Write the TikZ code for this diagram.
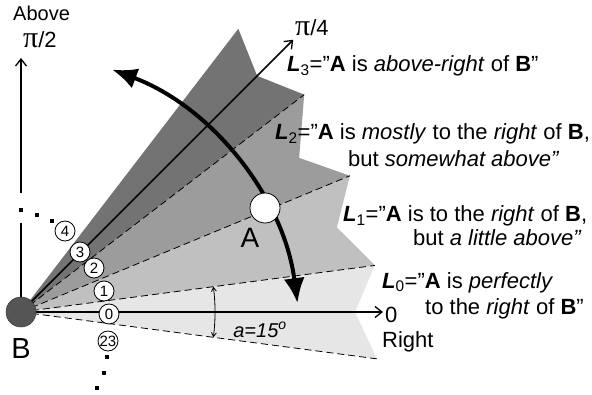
\documentclass[tikz,border=0pt]{standalone}
\usepackage{fontspec}
\setmainfont{Liberation Sans}
\newfontfamily\pifont{Liberation Serif}
\usetikzlibrary{arrows.meta,calc}
\definecolor{gL0}{HTML}{E6E6E6}
\definecolor{gL1}{HTML}{C0C0C0}
\definecolor{gL2}{HTML}{9C9C9C}
\definecolor{gL3}{HTML}{737373}
\definecolor{gB}{HTML}{555555}
\newcommand\Lsub[1]{\textbf{\textit{L}}\textsubscript{#1}=”}
\newcommand\bigpi{{\pifont\fontsize{30}{30}\selectfont π}}
\tikzset{
  txt/.style={inner sep=0pt, anchor=base west, font=\fontsize{22}{26}\selectfont},
  bound/.style={line width=0.8pt, dash pattern=on 7pt off 4pt},
  axis/.style={line width=1.5pt, -{Straight Barb[length=7pt,width=11pt,line width=1.3pt]}},
  num/.style={circle, draw, line width=0.8pt, fill=white, inner sep=0pt, minimum size=20pt, font=\fontsize{15}{15}\selectfont},
  dotm/.style={fill, inner sep=0pt, minimum size=3.5pt},
  bigarc/.style={line width=4pt, {Latex[length=25pt,width=21pt]}-{Latex[length=25pt,width=21pt]}},
}
\begin{document}
\begin{tikzpicture}[x=1pt,y=1pt]
\useasboundingbox (0,0) rectangle (592,394);
\coordinate (B) at (21,82);
\coordinate (C) at (10,53);
% sectors
\begin{scope}[shift={(B)}]
\fill[gL0] (0,0) -- (-7.5:359) -- (0:334) -- (7.5:357) -- cycle;
\fill[gL1] (0,0) -- (7.5:357) -- (15:327) -- (22.5:356) -- cycle;
\fill[gL2] (0,0) -- (22.5:356) -- (29:318) -- (37.5:357) -- cycle;
\fill[gL3] (0,0) -- (37.5:357) -- (45:334) -- (52.5:357) -- cycle;
\coordinate (dm1) at (-7.5:359);
\coordinate (d1) at (7.5:357);
\coordinate (d2) at (22.5:356);
\coordinate (d3) at (37.5:357);
\coordinate (r0) at (0:362);
\coordinate (r45) at (45:385);
\coordinate (v1) at (90:89);
\coordinate (v2) at (90:119);
\coordinate (v3) at (90:254);
\coordinate (a1) at (-7.5:194);
\end{scope}
\draw[bound] (B) -- (dm1);
\draw[bound] (B) -- (d1);
\draw[bound] (B) -- (d2);
\draw[bound] (B) -- (d3);
% axes
\draw[axis] (B) -- (r0);
\draw[axis] (B) -- (r45);
\draw[line width=2pt] (B) -- (v1);
\draw[axis, line width=2pt] (v2) -- (v3);
% angle arc
\draw[line width=0.8pt, {Straight Barb[length=4pt,width=5pt]}-{Straight Barb[length=4pt,width=5pt]}] (a1) arc[start angle=-7.5, end angle=7.5, radius=194];
\node[inner sep=0pt, font=\fontsize{20}{20}\selectfont\itshape] (alab) at (260,64) {a=15\textsuperscript{o}};
% dots
\node[dotm] (u1) at (21,184) {};
\node[dotm] (u2) at (37,179) {};
\node[dotm] (u3) at (52,173) {};
\node[dotm] (l1) at (107,37) {};
\node[dotm] (l2) at (104,21) {};
\node[dotm] (l3) at (97,6) {};
% numbers
\node[num] (n0) at (109,80) {0};
\node[num] (n1) at (104,103) {1};
\node[num] (n2) at (94,126) {2};
\node[num] (n3) at (80,142) {3};
\node[num] (n4) at (65,163) {4};
\node[num] (n23) at (108,53) {23};
% B
\node[circle, fill=gB, draw=black!80, line width=0.5pt, minimum size=30pt, inner sep=0pt] (Bn) at (B) {};
\node[inner sep=0pt, font=\fontsize{29}{29}\selectfont] (Blab) at (21,45) {B};
% big arc
\coordinate (arcS) at ($(C)+(69.4:290)$);
\draw[bigarc] (arcS) arc[start angle=69.4, end angle=7.5, radius=290];
% A
\node[circle, draw, fill=white, line width=0.8pt, minimum size=30pt, inner sep=0pt] (An) at (265,186) {};
\node[inner sep=0pt, font=\fontsize{28}{28}\selectfont] (Alab) at (250,156) {A};
% axis labels
\node[txt, font=\fontsize{20}{24}\selectfont] (above) at (13,373) {Above};
\node[txt] (pi2) at (23,346) {\bigpi/2};
\node[txt] (pi4) at (295,358) {\bigpi/4};
\node[txt] (zero) at (385,72) {0};
\node[txt] (right) at (382,47) {Right};
% L labels
\node[txt] (t3) at (287,322) {\Lsub{3}\textbf{A} is \textit{above-right} of \textbf{B}”};
\node[txt] (t2a) at (275,254) {\Lsub{2}\textbf{A} is \textit{mostly} to the \textit{right} of \textbf{B},};
\node[txt] (t2b) at (348,227) {but \textit{somewhat above”}};
\node[txt] (t1a) at (343,172) {\Lsub{1}\textbf{A} is to the \textit{right} of \textbf{B},};
\node[txt] (t1b) at (413,148) {but \textit{a little above”}};
\node[txt] (t0a) at (382,106) {\Lsub{0}\textbf{A} is \textit{perfectly}};
\node[txt] (t0b) at (425,79) {to the \textit{right} of \textbf{B}”};
\end{tikzpicture}
\end{document}
